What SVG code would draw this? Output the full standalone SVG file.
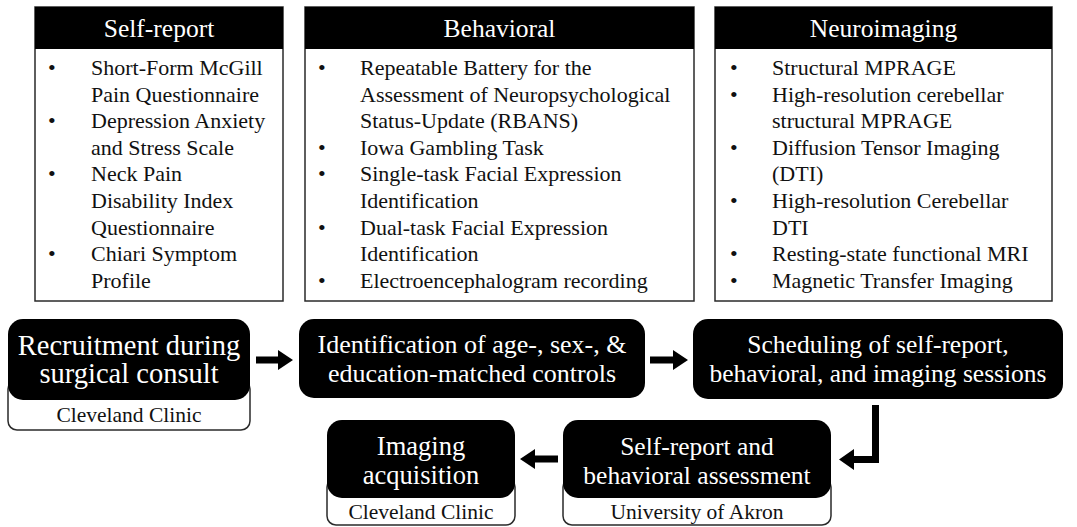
<svg xmlns="http://www.w3.org/2000/svg" width="1077" height="527" viewBox="0 0 1077 527">
<style>
.panel{fill:#fff;stroke:#2a2a2a;stroke-width:1.5}
.hdr{fill:#000}
.ht{font-family:"Liberation Serif","Times New Roman",serif;font-size:25.5px;fill:#fff;text-anchor:middle}
.li{font-family:"Liberation Serif","Times New Roman",serif;font-size:22px;fill:#111}
.blk{fill:#000}
.sub{fill:#fff;stroke:#2a2a2a;stroke-width:1.5}
.nt{font-family:"Liberation Serif","Times New Roman",serif;fill:#fff;text-anchor:middle}
.st{font-family:"Liberation Serif","Times New Roman",serif;font-size:21.5px;fill:#111;text-anchor:middle}
.arr{fill:#000}
</style>
<rect width="1077" height="527" fill="#fff"/>

<g id="self-report">
<rect class="panel" x="35" y="7" width="248" height="294"/>
<rect class="hdr" x="35" y="7" width="248" height="42"/>
<text class="ht" x="159" y="37">Self-report</text>
<g class="li">
<text x="48" y="75">•</text><text x="91" y="75">Short-Form McGill</text>
<text x="91" y="101.6">Pain Questionnaire</text>
<text x="48" y="128.2">•</text><text x="91" y="128.2">Depression Anxiety</text>
<text x="91" y="154.8">and Stress Scale</text>
<text x="48" y="181.4">•</text><text x="91" y="181.4">Neck Pain</text>
<text x="91" y="208">Disability Index</text>
<text x="91" y="234.6">Questionnaire</text>
<text x="48" y="261.2">•</text><text x="91" y="261.2">Chiari Symptom</text>
<text x="91" y="287.8">Profile</text>
</g>
</g>

<g id="behavioral">
<rect class="panel" x="305" y="7" width="389" height="294"/>
<rect class="hdr" x="305" y="7" width="389" height="42"/>
<text class="ht" x="499.5" y="37">Behavioral</text>
<g class="li">
<text x="318" y="75">•</text><text x="360" y="75">Repeatable Battery for the</text>
<text x="360" y="101.6">Assessment of Neuropsychological</text>
<text x="360" y="128.2">Status-Update (RBANS)</text>
<text x="318" y="154.8">•</text><text x="360" y="154.8">Iowa Gambling Task</text>
<text x="318" y="181.4">•</text><text x="360" y="181.4">Single-task Facial Expression</text>
<text x="360" y="208">Identification</text>
<text x="318" y="234.6">•</text><text x="360" y="234.6">Dual-task Facial Expression</text>
<text x="360" y="261.2">Identification</text>
<text x="318" y="287.8">•</text><text x="360" y="287.8">Electroencephalogram recording</text>
</g>
</g>

<g id="neuroimaging">
<rect class="panel" x="715" y="7" width="337" height="294"/>
<rect class="hdr" x="715" y="7" width="337" height="42"/>
<text class="ht" x="883.5" y="37">Neuroimaging</text>
<g class="li">
<text x="730" y="75">•</text><text x="772" y="75">Structural MPRAGE</text>
<text x="730" y="101.6">•</text><text x="772" y="101.6">High-resolution cerebellar</text>
<text x="772" y="128.2">structural MPRAGE</text>
<text x="730" y="154.8">•</text><text x="772" y="154.8">Diffusion Tensor Imaging</text>
<text x="772" y="181.4">(DTI)</text>
<text x="730" y="208">•</text><text x="772" y="208">High-resolution Cerebellar</text>
<text x="772" y="234.6">DTI</text>
<text x="730" y="261.2">•</text><text x="772" y="261.2">Resting-state functional MRI</text>
<text x="730" y="287.8">•</text><text x="772" y="287.8">Magnetic Transfer Imaging</text>
</g>
</g>

<g id="recruitment">
<rect class="sub" x="8" y="380" width="242" height="50" rx="9"/>
<rect class="blk" x="8" y="319" width="242" height="81" rx="15"/>
<text class="nt" font-size="28.5" x="129" y="355">Recruitment during</text>
<text class="nt" font-size="28.5" x="129" y="383">surgical consult</text>
<text class="st" x="129" y="422">Cleveland Clinic</text>
</g>

<g id="identification">
<rect class="blk" x="299" y="319" width="346" height="79" rx="15"/>
<text class="nt" font-size="26" x="472" y="353">Identification of age-, sex-, &amp;</text>
<text class="nt" font-size="26" x="472" y="382">education-matched controls</text>
</g>

<g id="scheduling">
<rect class="blk" x="693" y="319" width="370" height="80" rx="15"/>
<text class="nt" font-size="25.5" x="878" y="353">Scheduling of self-report,</text>
<text class="nt" font-size="25.5" x="878" y="382">behavioral, and imaging sessions</text>
</g>

<g id="assessment">
<rect class="sub" x="563" y="478" width="268" height="47" rx="9"/>
<rect class="blk" x="563" y="420" width="268" height="78" rx="15"/>
<text class="nt" font-size="25.5" x="697" y="455">Self-report and</text>
<text class="nt" font-size="25.5" x="697" y="484">behavioral assessment</text>
<text class="st" x="697" y="519">University of Akron</text>
</g>

<g id="imaging">
<rect class="sub" x="327" y="478" width="188" height="47" rx="9"/>
<rect class="blk" x="327" y="420" width="188" height="78" rx="15"/>
<text class="nt" font-size="26.5" x="421" y="455">Imaging</text>
<text class="nt" font-size="26.5" x="421" y="484">acquisition</text>
<text class="st" x="421" y="519">Cleveland Clinic</text>
</g>

<g id="connectors">
<polygon class="arr" points="256,356.5 278,356.5 278,350 293,360 278,370 278,363.5 256,363.5"/>
<polygon class="arr" points="650,356.5 673,356.5 673,350 688,360 673,370 673,363.5 650,363.5"/>
<polygon class="arr" points="872,405 879,405 879,463 854,463 854,470 839,459.5 854,449 854,456 872,456"/>
<polygon class="arr" points="558,455.5 535,455.5 535,449 520,459 535,469 535,462.5 558,462.5"/>
</g>
</svg>
